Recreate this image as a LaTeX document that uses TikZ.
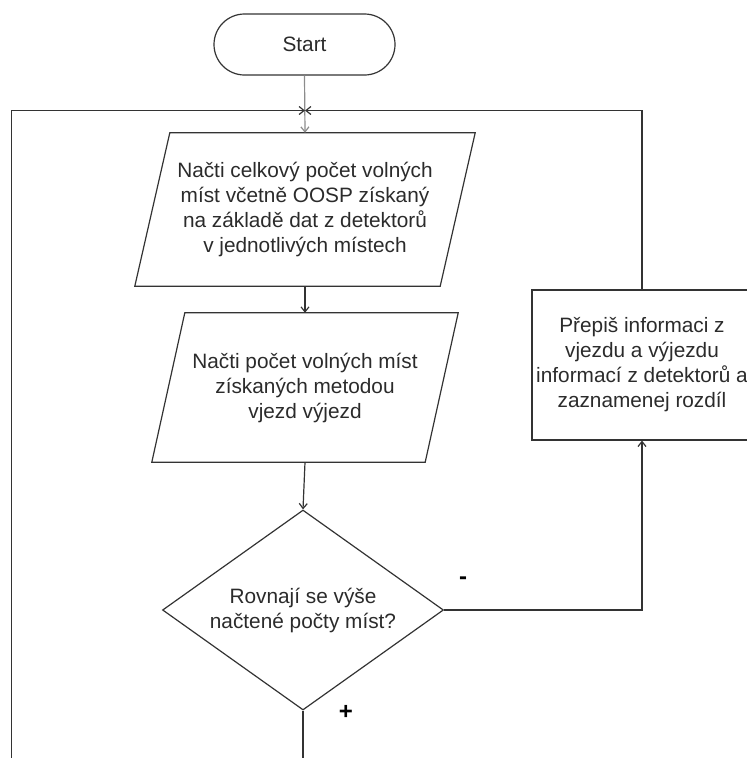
\documentclass[tikz,border=0pt]{standalone}
\usepackage{fontspec}
\setmainfont{Liberation Sans}
\usetikzlibrary{arrows.meta,shapes.geometric,calc}
\definecolor{ink}{HTML}{2B2B2B}
\definecolor{linec}{HTML}{333333}
\begin{document}
\begin{tikzpicture}[x=1pt,y=-1pt,
  line/.style={draw=linec, line width=1.2pt},
  arr/.style={line, -{Straight Barb[length=5pt,width=8pt,line width=1.2pt]}},
  txt/.style={align=center, text=ink, font=\fontsize{20.8}{25}\selectfont, inner sep=0pt},
  sign/.style={text=black, font=\bfseries\fontsize{24}{24}\selectfont, inner sep=0pt},
]
\useasboundingbox (0,0) rectangle (747,758);
\begin{scope}
\clip (0,0) rectangle (747,758);

% terminal
\node[txt, line, rounded corners=30.5pt, minimum width=181pt, minimum height=61pt] (start) at (304.5,44.5) {Start};

% first input (parallelogram drawn on the node's bounding box)
\node[txt, minimum width=340pt, minimum height=153pt] (read1) at (305,209.5)
  {Načti celkový počet volných\\míst včetně OOSP získaný\\na základě dat z detektorů\\v jednotlivých místech};
\draw[line] ($(read1.north west)+(35,0)$) -- (read1.north east)
  -- ($(read1.south east)-(35,0)$) -- (read1.south west) -- cycle;

% second input
\node[txt, minimum width=306pt, minimum height=149pt] (read2) at (305,387.5)
  {Načti počet volných míst\\získaných metodou\\vjezd výjezd};
\draw[line] ($(read2.north west)+(33,0)$) -- (read2.north east)
  -- ($(read2.south east)-(33,0)$) -- (read2.south west) -- cycle;

% decision
\node[txt, line, diamond, aspect=1.4, minimum width=281pt, minimum height=200pt] (dec) at (303,610)
  {Rovnají se výše\\načtené počty míst?};

% update box
\node[txt, line, minimum width=220pt, minimum height=150pt] (upd) at (642,365)
  {Přepiš informaci z\\vjezdu a výjezdu\\informací z detektorů a\\zaznamenej rozdíl};

% loop points
\coordinate (junction) at (305,110.5);
\coordinate (loopin) at (11.5,762);
\coordinate (yesout) at (303,762);

% connectors
\draw[arr, draw=black!45] (start.south) -- (read1.north);
\draw[arr] (loopin) |- (junction);
\draw[arr] (upd.north) |- (junction);
\draw[arr] (read1.south) -- (read2.north);
\draw[arr] (read2.south) -- (dec.north);
\draw[arr] (dec.east) -| (upd.south);
\draw[line] (dec.south) -- (yesout);

% branch labels
\node[sign] (no) at (463,581) {-};
\node[sign] (yes) at (346,712) {+};
\end{scope}
\end{tikzpicture}
\end{document}
